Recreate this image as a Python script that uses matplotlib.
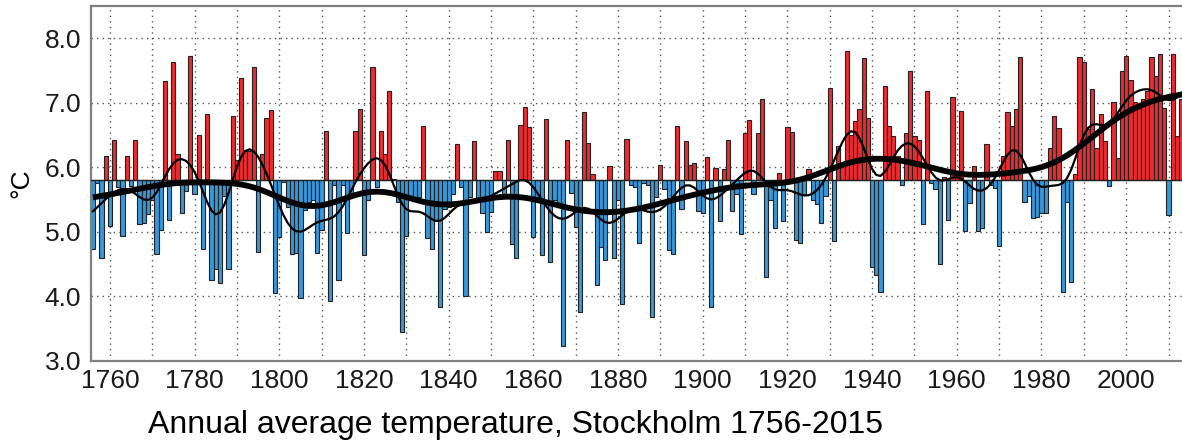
import numpy as np
import matplotlib
matplotlib.use("Agg")
import matplotlib.pyplot as plt

# Annual mean temperature in Stockholm (°C), one value per year from 1756
first_year = 1756
temps = [
    4.73, 5.76, 4.59, 6.17,                                        # 1756-1759
    5.09, 6.43, 5.70, 4.94, 6.17, 5.71, 6.43, 5.12, 5.14, 5.28,    # 1760s
    5.49, 4.65, 5.03, 7.34, 5.19, 7.64, 6.20, 5.29, 5.63, 7.72,    # 1770s
    5.59, 6.50, 4.74, 6.82, 4.25, 4.42, 4.21, 5.55, 4.43, 6.79,    # 1780s
    6.12, 7.39, 6.25, 6.26, 7.56, 4.69, 6.20, 6.77, 6.89, 4.06,    # 1790s
    4.92, 5.77, 5.39, 4.65, 4.68, 3.98, 5.34, 5.46, 5.50, 4.68,    # 1800s
    5.03, 6.57, 3.93, 5.72, 4.26, 5.72, 4.98, 5.60, 6.57, 6.91,    # 1810s
    4.64, 5.49, 7.55, 5.70, 6.57, 6.20, 7.18, 5.82, 5.46, 3.45,    # 1820s
    4.94, 5.49, 5.49, 5.54, 6.64, 4.90, 4.73, 5.18, 3.83, 5.36,    # 1830s
    5.39, 5.59, 6.36, 5.70, 4.00, 5.54, 6.41, 5.49, 5.30, 5.00,    # 1840s
    5.31, 5.94, 5.94, 5.59, 6.43, 4.82, 4.59, 6.65, 6.94, 6.62,    # 1850s
    4.92, 5.49, 4.64, 6.75, 4.53, 5.49, 5.39, 3.23, 6.43, 5.60,    # 1860s
    5.08, 3.76, 6.86, 6.38, 5.90, 4.18, 4.77, 4.57, 6.02, 4.60,    # 1870s
    5.49, 3.89, 6.44, 5.72, 5.70, 4.83, 5.75, 5.72, 3.68, 5.54,    # 1880s
    6.04, 5.67, 4.72, 4.65, 6.64, 5.35, 6.41, 6.04, 6.07, 5.32,    # 1890s
    5.29, 6.16, 3.83, 5.99, 5.17, 5.98, 6.43, 5.32, 5.59, 4.97,    # 1900s
    6.53, 6.73, 5.58, 6.53, 7.06, 4.30, 5.49, 5.06, 5.91, 5.17,    # 1910s
    6.62, 6.55, 4.88, 4.83, 5.57, 5.98, 5.50, 5.44, 5.14, 5.55,    # 1920s
    7.23, 4.86, 6.33, 6.05, 7.81, 6.50, 6.72, 6.90, 7.70, 6.77,    # 1930s
    4.45, 4.33, 4.07, 7.26, 6.64, 6.48, 6.17, 5.73, 6.54, 7.49,    # 1940s
    6.49, 6.42, 5.13, 7.18, 5.76, 5.67, 4.50, 5.85, 5.19, 7.09,    # 1950s
    5.90, 6.87, 5.01, 5.45, 6.02, 5.01, 5.06, 6.36, 5.72, 5.68,    # 1960s
    4.78, 6.17, 6.86, 6.64, 6.91, 7.71, 5.47, 5.55, 5.22, 5.23,    # 1970s
    5.30, 5.30, 6.30, 6.80, 6.61, 4.07, 5.47, 4.23, 5.90, 7.71,    # 1980s
    7.64, 6.60, 7.21, 6.30, 6.82, 6.41, 5.71, 7.01, 6.14, 7.49,    # 1990s
    7.72, 7.35, 7.01, 6.92, 7.06, 7.18, 7.71, 7.42, 7.76, 6.92,    # 2000s
    5.26, 7.76, 6.48, 7.06, 7.90, 7.80,                            # 2010-2015
]
years = np.arange(first_year, first_year + len(temps))
temps = np.array(temps)

reference_level = 5.8
y_ticks = [3.0, 4.0, 5.0, 6.0, 7.0, 8.0]
x_label_years = list(range(1760, 2001, 20))
x_grid_years = list(range(1760, 2011, 10))
title_text = "Annual average temperature, Stockholm 1756-2015"

warm_color = "#ee2a2f"
cold_color = "#3498db"


def gaussian_smooth(values, sigma):
    """Gaussian-weighted running mean, renormalised near the ends."""
    half = int(np.ceil(4 * sigma))
    k = np.arange(-half, half + 1)
    w = np.exp(-0.5 * (k / sigma) ** 2)
    num = np.convolve(values, w, mode="same")
    den = np.convolve(np.ones_like(values), w, mode="same")
    return num / den


short_trend = gaussian_smooth(temps, 3.0)
long_trend = gaussian_smooth(temps, 9.0)

plt.rcParams["font.family"] = ["Liberation Sans", "DejaVu Sans"]

fig = plt.figure(figsize=(11.82, 4.42), dpi=100)
# the plot runs a little past the right edge of the canvas
ax = fig.add_axes([90.8 / 1182, 81 / 442, 1101 / 1182, 355 / 442])

anoms = temps - reference_level
colors = [warm_color if a >= 0 else cold_color for a in anoms]
ax.bar(years, anoms, width=1.0, bottom=reference_level, color=colors,
       edgecolor="#222222", linewidth=0.8, zorder=2)
ax.axhline(reference_level, color="#222222", linewidth=1.0, zorder=3)

ax.plot(years, long_trend, color="black", linewidth=4.2, zorder=4,
        solid_capstyle="butt")
ax.plot(years, short_trend, color="black", linewidth=1.6, zorder=5)

ax.set_xlim(first_year - 0.5, first_year + len(temps) - 0.5)
ax.set_ylim(3.0, 8.5)

ax.set_yticks(y_ticks)
ax.set_yticklabels([f"{v:.1f}" for v in y_ticks])
ax.set_xticks(x_label_years)
ax.set_xticklabels([str(y) for y in x_label_years])
ax.tick_params(axis="both", length=0, labelsize=19, colors="#1a1a1a")
ax.tick_params(axis="y", pad=7)
ax.tick_params(axis="x", pad=6)

grid_style = dict(color="#555555", linewidth=1.0, linestyle=(0, (1, 3)), zorder=1)
for gy in [4.0, 5.0, 6.0, 7.0, 8.0]:
    ax.axhline(gy, **grid_style)
for gx in x_grid_years:
    ax.axvline(gx, **grid_style)

for side in ("left", "bottom", "top"):
    ax.spines[side].set_color("#808080")
    ax.spines[side].set_linewidth(1.6)
ax.spines["right"].set_visible(False)

ax.set_ylabel("°C", fontsize=19, labelpad=8)

fig.text(148 / 1182, (442 - 425) / 442, title_text, fontsize=23,
         ha="left", va="center", color="black")

fig.savefig("out.png", dpi=100)
